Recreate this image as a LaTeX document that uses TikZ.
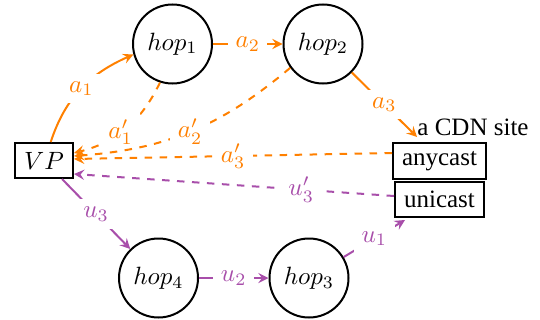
\documentclass[tikz,border=0pt]{standalone}
\usepackage{fontspec}
\setmainfont{Liberation Serif}
\usetikzlibrary{arrows}
\definecolor{aor}{RGB}{255,128,0}
\definecolor{upu}{RGB}{168,78,170}
\begin{document}
\begin{tikzpicture}[x=0.4pt,y=-0.4pt,
  hopnode/.style={circle,draw,thick,minimum size=31.6pt,inner sep=0pt},
  boxnode/.style={rectangle,draw,thick,minimum height=14pt},
  aedge/.style={aor,thick,-stealth},
  uedge/.style={upu,thick,-stealth},
  lab/.style={fill=white,inner sep=3pt}]
\useasboundingbox (0,0) rectangle (540,320);
\node[boxnode,minimum width=23.2pt] (VP) at (44,160.5) {$VP$};
\node[boxnode,minimum width=37.2pt] (anycast) at (439.5,161) {anycast};
\node[boxnode,minimum width=35.6pt] (unicast) at (439.5,199.5) {unicast};
\node (cdn) at (473,127) {a CDN site};
\node[hopnode] (hop1) at (172.5,44) {$hop_1$};
\node[hopnode] (hop2) at (323,44) {$hop_2$};
\node[hopnode] (hop4) at (158.5,278) {$hop_4$};
\node[hopnode] (hop3) at (309,278) {$hop_3$};
% anycast path
\draw[aedge] (VP.70) to[out=72,in=204] node[lab,pos=0.5,text=aor] {$a_1$} (hop1.195);
\draw[aedge] (hop1) -- node[lab,text=aor] {$a_2$} (hop2);
\draw[aedge] (hop2) -- node[lab,text=aor] {$a_3$} ([xshift=-9pt,yshift=2pt]anycast.north);
\draw[aedge,dashed] (hop1.252) to[bend left=25] node[lab,pos=0.56,text=aor] {$a_1'$} ([yshift=3pt]VP.east);
\draw[aedge,dashed] (hop2.216) to[bend left=18] node[lab,pos=0.5,text=aor] {$a_2'$} ([yshift=1.8pt]VP.east);
\draw[aedge,dashed] ([yshift=3.2pt]anycast.west) -- node[lab,text=aor] {$a_3'$} ([yshift=0.6pt]VP.east);
% unicast path
\draw[uedge] (VP) -- node[lab,text=upu] {$u_3$} (hop4);
\draw[uedge] (hop4) -- node[lab,text=upu] {$u_2$} (hop3);
\draw[uedge] (hop3) -- node[lab,text=upu] {$u_1$} ([xshift=-13.8pt,yshift=-0.8pt]unicast.south);
\draw[uedge,dashed] ([yshift=1.4pt]unicast.west) -- node[lab,pos=0.29,text=upu] {$u_3'$} ([yshift=-5.4pt]VP.east);
\end{tikzpicture}
\end{document}
